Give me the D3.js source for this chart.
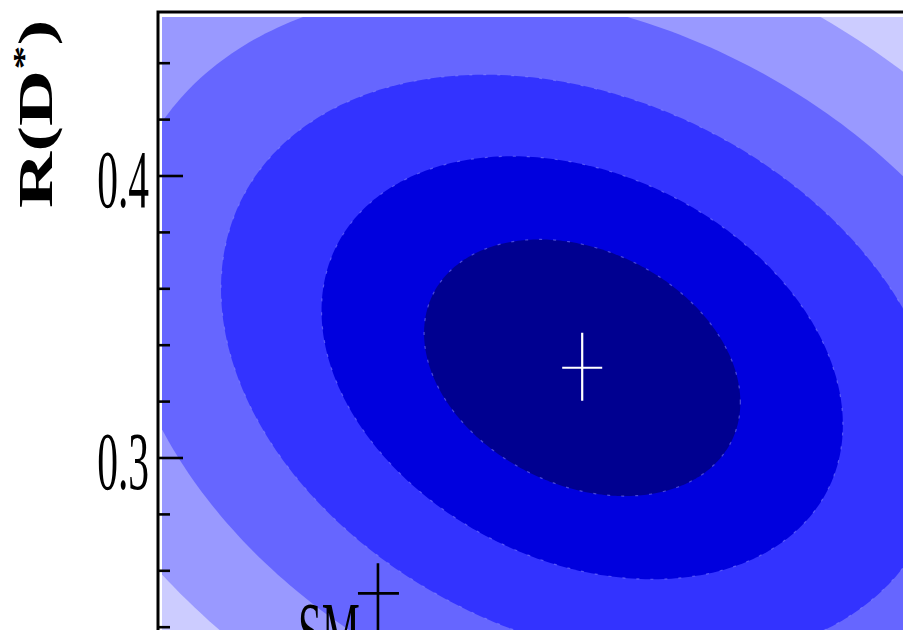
<!DOCTYPE html>
<html>
<head>
<meta charset="utf-8">
<script src="https://cdn.jsdelivr.net/npm/d3@7"></script>
<style>
  html, body { margin: 0; padding: 0; background: #ffffff; }
  svg { display: block; }
</style>
</head>
<body>
<svg id="chart" width="909" height="630"></svg>
<script>
// Measured R(D), R(D*) with total uncertainty and correlation
const fitCentre = [0.440, 0.332];
const fitSigma = [0.073, 0.030];
const fitRho = -0.27;

// Delta chi^2 levels of the 1..5 sigma contours
const contourLevels = [2.30, 6.25, 12.0, 19.8, 29.7];

// Standard Model expectation
const smPoint = [0.297, 0.252];
const smLabel = "SM";

// R(D*) axis ticks
const yMajorTicks = [0.3, 0.4];
const yMajorLabels = ["0.3", "0.4"];
const yMinorTicks = [0.24, 0.26, 0.28, 0.32, 0.34, 0.36, 0.38, 0.42, 0.44];
const yTitle = "R(D";
const yTitleSup = "*";

// fill colours, innermost band first, then the region outside every contour
const bandColours = ["#000090", "#0000de", "#3333ff", "#6666ff", "#9999ff"];
const outsideColour = "#ccccff";

const svg = d3.select("#chart");

const frame = { left: 158, top: 12, right: 905, bottom: 630 };
const fillBox = { left: 162, top: 17, right: 903, bottom: 630 };

const x = d3.scaleLinear().domain([0.143, 0.666]).range([frame.left, frame.right]);
const y = d3.scaleLinear().domain([0.24, 0.46]).range([627.2, 6.8]);

svg.append("defs").append("clipPath").attr("id", "plotClip")
  .append("rect")
  .attr("x", fillBox.left).attr("y", fillBox.top)
  .attr("width", fillBox.right - fillBox.left)
  .attr("height", fillBox.bottom - fillBox.top);

const plot = svg.append("g").attr("clip-path", "url(#plotClip)");

plot.append("rect")
  .attr("x", fillBox.left).attr("y", fillBox.top)
  .attr("width", fillBox.right - fillBox.left)
  .attr("height", fillBox.bottom - fillBox.top)
  .attr("fill", outsideColour);

// points on the Delta chi^2 = k ellipse of a correlated Gaussian
function ellipsePoints(k) {
  const r = Math.sqrt(k);
  const s = Math.sqrt(1 - fitRho * fitRho);
  return d3.range(0, 360, 1).map(deg => {
    const t = deg * Math.PI / 180;
    const u = r * Math.cos(t);
    const v = r * (fitRho * Math.cos(t) + s * Math.sin(t));
    return [fitCentre[0] + fitSigma[0] * u, fitCentre[1] + fitSigma[1] * v];
  });
}

const line = d3.line().x(d => x(d[0])).y(d => y(d[1])).curve(d3.curveLinearClosed);

const contours = contourLevels.map((k, i) => ({ k, i, pts: ellipsePoints(k) })).reverse();

plot.selectAll("path.band")
  .data(contours)
  .join("path")
  .attr("class", "band")
  .attr("d", d => line(d.pts))
  .attr("fill", d => bandColours[d.i])
  .attr("stroke", "none");

// faint broken edges on the inner contours
plot.selectAll("path.edge")
  .data(contours.filter(d => d.i < 3))
  .join("path")
  .attr("class", "edge")
  .attr("d", d => line(d.pts))
  .attr("fill", "none")
  .attr("stroke", "#8f8fff")
  .attr("stroke-opacity", 0.5)
  .attr("stroke-width", 1.2)
  .attr("stroke-dasharray", "3 11");

// best-fit marker
const fx = x(fitCentre[0]), fy = y(fitCentre[1]);
plot.append("path")
  .attr("d", `M${fx - 20},${fy}H${fx + 20}M${fx},${fy - 35}V${fy + 33}`)
  .attr("stroke", "#ffffff").attr("stroke-width", 2.2).attr("fill", "none");

// Standard Model marker and label
const sx = x(smPoint[0]), sy = y(smPoint[1]);
plot.append("path")
  .attr("d", `M${sx - 20},${sy}H${sx + 21}M${sx},${sy - 30}V${sy + 45}`)
  .attr("stroke", "#000000").attr("stroke-width", 2.6).attr("fill", "none");

plot.append("text")
  .attr("transform", `translate(${sx - 80},${sy + 68}) scale(0.51,1)`)
  .attr("font-family", "'Liberation Serif', 'Times New Roman', serif")
  .attr("font-size", 84)
  .attr("fill", "#000")
  .text(smLabel);

// frame (left and top edges)
svg.append("path")
  .attr("d", `M${frame.left},${frame.bottom}V${frame.top}H${fillBox.right}`)
  .attr("fill", "none").attr("stroke", "#000").attr("stroke-width", 3);

// y ticks pointing into the plot
svg.selectAll("line.major")
  .data(yMajorTicks)
  .join("line")
  .attr("class", "major")
  .attr("x1", frame.left).attr("x2", frame.left + 25)
  .attr("y1", d => y(d)).attr("y2", d => y(d))
  .attr("stroke", "#000").attr("stroke-width", 2.6);

svg.selectAll("line.minor")
  .data(yMinorTicks)
  .join("line")
  .attr("class", "minor")
  .attr("x1", frame.left).attr("x2", frame.left + 12)
  .attr("y1", d => y(d)).attr("y2", d => y(d))
  .attr("stroke", "#000").attr("stroke-width", 2.6);

svg.selectAll("text.ylab")
  .data(yMajorTicks)
  .join("text")
  .attr("class", "ylab")
  .attr("transform", d => `translate(149,${y(d) + 31}) scale(0.5,1)`)
  .attr("text-anchor", "end")
  .attr("font-family", "'Liberation Serif', 'Times New Roman', serif")
  .attr("font-size", 83)
  .attr("fill", "#000")
  .text((d, i) => yMajorLabels[i]);

// axis title, rotated
const title = svg.append("text")
  .attr("transform", "translate(52,208) rotate(-90) scale(1.62,1)")
  .attr("font-family", "'Liberation Serif', 'Times New Roman', serif")
  .attr("font-weight", "bold")
  .attr("font-size", 48)
  .attr("fill", "#000");
title.append("tspan").text(yTitle);
title.append("tspan").attr("font-size", 30).attr("dy", -19).text(yTitleSup);
title.append("tspan").attr("dy", 19).text(")");
</script>
</body>
</html>
